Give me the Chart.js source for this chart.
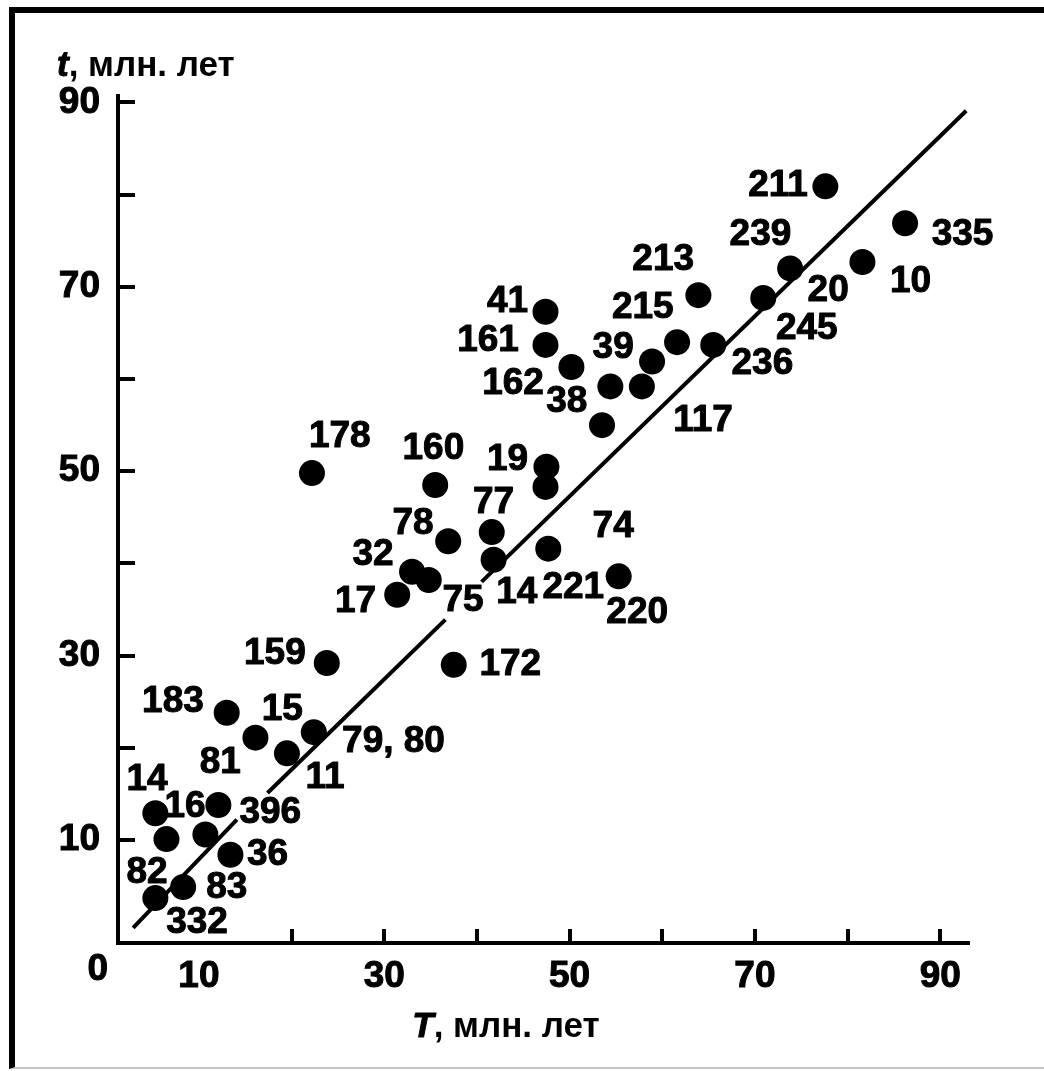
<!DOCTYPE html>
<html>
<head>
<meta charset="utf-8">
<script src="https://cdn.jsdelivr.net/npm/chart.js@4"></script>
<style>
  body { margin: 0; background: #fff; }
  #frame {
    position: absolute; left: 9px; top: 7px; width: 1035px; height: 1062px;
    border-top: 6px solid #000; border-left: 6px solid #000; border-bottom: 2px solid #c4c4c4;
    box-sizing: border-box;
  }
  #chartT { position: absolute; left: 0; top: 0; }
</style>
</head>
<body>
<div id="frame"></div>
<canvas id="chartT" width="1044" height="1071"></canvas>
<script>
// T (x) and t (y) of each dot, in million years
const pointT = [5.3, 8.3, 10.7, 13.4, 6.5, 5.3, 12.1, 13.0, 16.1, 19.5, 22.4, 23.8, 22.2,
    31.4, 33.0, 34.8, 36.9, 35.5, 37.5, 41.6, 41.8, 47.5, 47.4, 47.7, 55.3, 53.5,
    47.4, 47.4, 50.2, 54.4, 57.8, 58.9, 61.6, 63.9, 65.5, 70.9, 73.8, 77.6, 81.6, 86.2];
const pointt = [3.7, 4.9, 10.6, 8.4, 10.1, 12.9, 13.8, 23.8, 21.1, 19.4, 21.7, 29.2, 49.8,
    36.6, 39.1, 38.2, 42.4, 48.5, 29.0, 43.4, 40.4, 50.5, 48.3, 41.6, 38.6, 55.0,
    67.3, 63.7, 61.3, 59.2, 59.2, 61.9, 64.0, 69.1, 63.7, 68.8, 72.0, 80.9, 72.7, 76.9];

// sample numbers written next to the dots, with where they sit (T, t)
const labelNames = ['82', '332', '83', '36', '396', '16', '14', '81', '183', '15', '11', '79, 80',
    '159', '178', '160', '19', '77', '78', '74', '32', '17', '75', '14', '221', '220', '172',
    '38', '162', '161', '41', '39', '215', '213', '117', '236', '245', '20', '239', '211', '10', '335'];
const labelT = [4.4, 9.8, 13.0, 17.4, 17.7, 8.5, 4.4, 12.3, 7.2, 19.0, 23.6, 31.0,
    18.2, 25.2, 35.3, 43.3, 41.8, 33.1, 54.7, 28.8, 26.9, 38.5, 44.3, 50.4, 57.3, 43.6,
    49.7, 43.9, 41.2, 43.3, 54.7, 57.9, 60.1, 64.4, 70.8, 75.6, 77.9, 70.6, 72.5, 86.8, 92.4];
const labelt = [6.4, 1.0, 4.8, 8.4, 13.0, 13.6, 16.5, 18.4, 25.0, 24.1, 16.8, 20.6,
    30.2, 53.7, 52.4, 51.2, 46.6, 44.3, 44.0, 40.9, 35.8, 36.0, 36.8, 37.4, 34.6, 29.0,
    57.5, 59.5, 64.2, 68.4, 63.4, 67.7, 72.9, 55.5, 61.7, 65.5, 69.6, 75.6, 81.0, 70.5, 75.6];

// fitted line, broken where labels cross it (null = gap)
const fitT = [2.9, 14.1, null, 17.4, 36.6, null, 40.5, 92.8];
const fitt = [0.46, 12.2, null, 15.1, 33.9, null, 38.0, 89.1];

// axis ticks
const xTickMarks = [20, 30, 40, 50, 60, 70, 80, 90];
const yTickMarks = [10, 20, 30, 40, 50, 60, 70, 80, 90];
const tickLabels = [10, 30, 50, 70, 90];

const FONT = '"Liberation Sans", Arial, sans-serif';

let points = pointT.map((v, i) => ({x: v, y: pointt[i]}));
let fitLine = [];
for (let i = 0; i < fitT.length; i++) {
    if (fitT[i] === null) fitLine.push({x: fitT[i - 1], y: null});
    else fitLine.push({x: fitT[i], y: fitt[i]});
}

function heavyText(ctx, s, x, y) {
    ctx.strokeText(s, x, y);
    ctx.fillText(s, x, y);
}

const extras = {
    id: 'extras',
    afterDatasetsDraw(chart) {
        const ctx = chart.ctx;
        const xs = chart.scales.x, ys = chart.scales.y;
        const area = chart.chartArea;
        ctx.save();
        ctx.strokeStyle = '#000';
        ctx.lineWidth = 4;
        ctx.lineCap = 'butt';
        // inward tick marks
        for (const v of yTickMarks) {
            const py = Math.round(ys.getPixelForValue(v));
            ctx.beginPath();
            ctx.moveTo(area.left, py);
            ctx.lineTo(area.left + 17, py);
            ctx.stroke();
        }
        for (const v of xTickMarks) {
            const px = Math.round(xs.getPixelForValue(v));
            ctx.beginPath();
            ctx.moveTo(px, area.bottom);
            ctx.lineTo(px, area.bottom - 14);
            ctx.stroke();
        }
        // labels of the dots
        ctx.fillStyle = '#000';
        ctx.lineWidth = 1;
        ctx.lineJoin = 'round';
        ctx.font = 'bold 37px ' + FONT;
        ctx.textAlign = 'center';
        ctx.textBaseline = 'middle';
        for (let i = 0; i < labelNames.length; i++) {
            heavyText(ctx, labelNames[i], xs.getPixelForValue(labelT[i]), ys.getPixelForValue(labelt[i]));
        }
        // origin "0"
        ctx.textAlign = 'right';
        heavyText(ctx, '0', area.left - 10, area.bottom + 27);
        // axis titles
        ctx.textAlign = 'left';
        ctx.font = 'italic bold 35px ' + FONT;
        let x0 = area.left - 61;
        heavyText(ctx, 't', x0, area.top - 30);
        let w = ctx.measureText('t').width;
        ctx.font = 'bold 35px ' + FONT;
        ctx.fillText(', млн. лет', x0 + w, area.top - 30);

        ctx.font = 'italic bold 35px ' + FONT;
        w = ctx.measureText('T').width;
        ctx.font = 'bold 35px ' + FONT;
        const rest = ', млн. лет';
        const total = w + ctx.measureText(rest).width;
        x0 = 506 - total / 2;
        ctx.font = 'italic bold 35px ' + FONT;
        heavyText(ctx, 'T', x0, area.bottom + 84);
        ctx.font = 'bold 35px ' + FONT;
        ctx.fillText(rest, x0 + w, area.bottom + 84);
        ctx.restore();
    }
};

const config = {
    type: 'scatter',
    data: {
        datasets: [{
            type: 'line',
            data: fitLine,
            borderColor: '#000',
            borderWidth: 4,
            pointRadius: 0,
            spanGaps: false,
            fill: false
        }, {
            data: points,
            backgroundColor: '#000',
            borderWidth: 0,
            pointRadius: 13,
            pointStyle: 'circle'
        }]
    },
    options: {
        responsive: false,
        animation: false,
        devicePixelRatio: 1,
        events: [],
        layout: {padding: {left: 0, top: 96, right: 75, bottom: 0}},
        plugins: {legend: {display: false}, tooltip: {enabled: false}},
        scales: {
            x: {
                type: 'linear',
                position: 'bottom',
                min: 1.27,
                max: 93.1,
                afterBuildTicks: s => { s.ticks = tickLabels.map(v => ({value: v})); },
                afterFit: s => { s.height = 128; },
                grid: {display: false},
                border: {display: true, color: '#000', width: 4},
                ticks: {
                    color: '#000',
                    padding: 4,
                    maxRotation: 0,
                    autoSkip: false,
                    textStrokeColor: '#000',
                    textStrokeWidth: 1,
                    font: {family: FONT, size: 37, weight: 'bold'}
                }
            },
            y: {
                type: 'linear',
                min: -1.17,
                max: 90.7,
                afterBuildTicks: s => { s.ticks = tickLabels.map(v => ({value: v})); },
                afterFit: s => { s.width = 118; },
                grid: {display: false},
                border: {display: true, color: '#000', width: 4},
                ticks: {
                    color: '#000',
                    padding: 10,
                    autoSkip: false,
                    textStrokeColor: '#000',
                    textStrokeWidth: 1,
                    font: {family: FONT, size: 37, weight: 'bold'}
                }
            }
        }
    },
    plugins: [extras]
};

const myChart = new Chart(document.getElementById('chartT'), config);
</script>
</body>
</html>
